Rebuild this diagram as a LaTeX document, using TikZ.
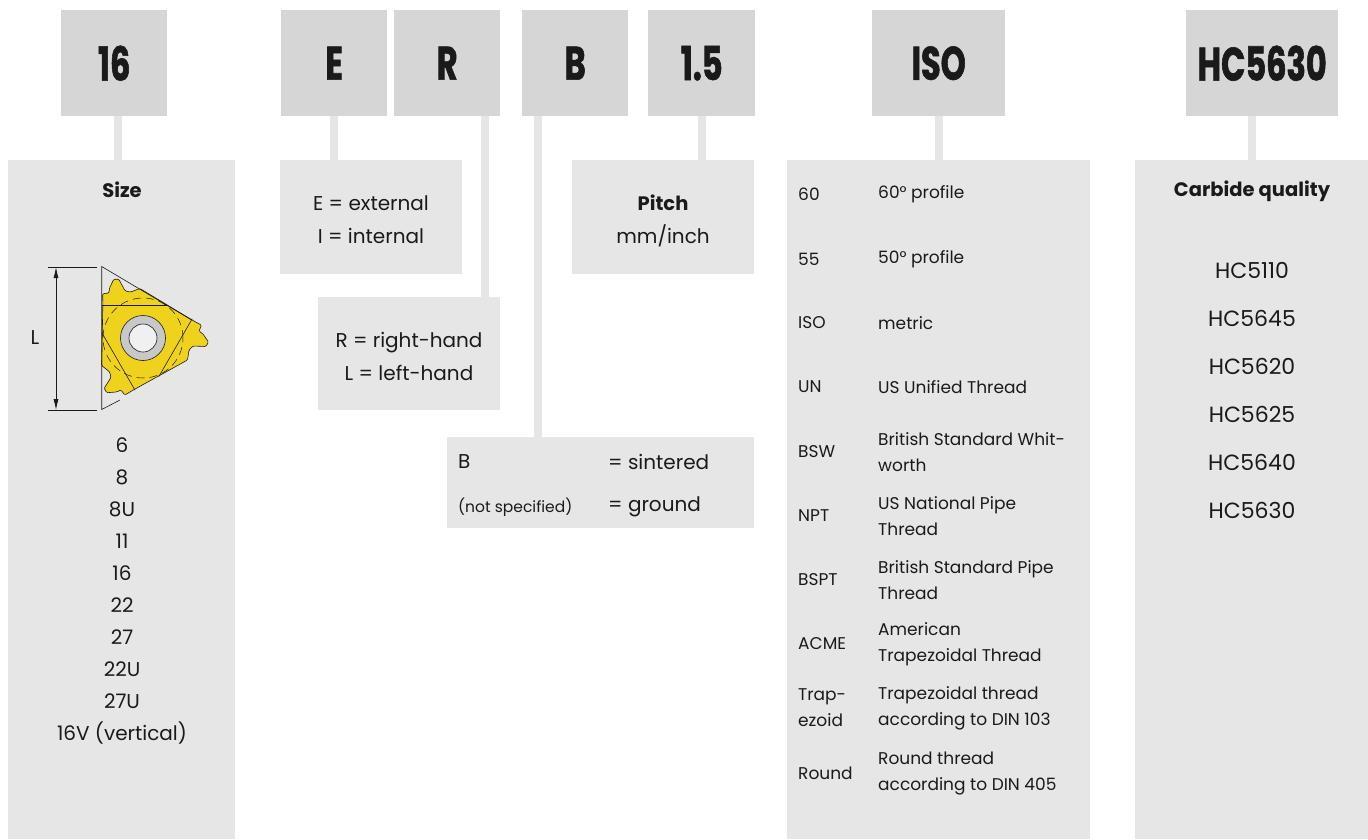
\documentclass[tikz,border=0pt]{standalone}
\usepackage{fontspec}
\setmainfont{Poppins}[Numbers=Monospaced]
\newfontfamily\codefont{Poppins}[FakeStretch=0.68, FakeBold=1.2]
\usetikzlibrary{arrows.meta}

\definecolor{codegray}{HTML}{D6D6D6}
\definecolor{descgray}{HTML}{E6E6E6}
\definecolor{inkblack}{HTML}{1A1A1A}
\definecolor{insertyellow}{HTML}{EFD21C}
\definecolor{holegray}{HTML}{C8C8C8}

\tikzset{
  codebox/.style={fill=codegray, minimum height=106, inner sep=0, anchor=north west,
    font=\codefont\bfseries\fontsize{47}{47}\selectfont},
  descbox/.style={fill=descgray, inner sep=0, anchor=north west},
  stem/.style={draw=descgray, line width=8},
  head/.style={font=\bfseries\fontsize{19.5}{22}\selectfont, inner sep=0},
  txt/.style={font=\fontsize{20}{33}\selectfont, inner sep=0, align=center},
  cell/.style={font=\fontsize{17}{26}\selectfont, inner sep=0, anchor=west, align=left},
  thin line/.style={draw=inkblack, line width=0.6},
}

% one cut corner of the insert with its thread tooth
\newcommand{\threadprofile}[1]{%
  -- ([rotate=#1]58.5,12.8) -- ([rotate=#1]56,7) -- ([rotate=#1]60,4)
  -- ([rotate=#1]65.5,-4) -- ([rotate=#1]63,-8.5) -- ([rotate=#1]50,-8)
  -- ([rotate=#1]46,-12) -- ([rotate=#1]44.5,-22)}

\begin{document}
\begin{tikzpicture}[x=1pt, y=-1pt, text=inkblack]
\useasboundingbox (0,0) rectangle (1368,839);

% description boxes
\node[descbox, minimum width=227, minimum height=679] (size) at (8,160) {};
\node[descbox, minimum width=182, minimum height=114] (ei) at (280,160) {};
\node[descbox, minimum width=182, minimum height=113] (rl) at (318,297) {};
\node[descbox, minimum width=182, minimum height=114] (pitch) at (572,160) {};
\node[descbox, minimum width=307, minimum height=91] (grind) at (447,437) {};
\node[descbox, minimum width=303, minimum height=679] (thread) at (787,160) {};
\node[descbox, minimum width=233, minimum height=679] (grade) at (1135,160) {};

% code boxes
\node[codebox, minimum width=106] (c16) at (61,10) {16};
\node[codebox, minimum width=106] (cE) at (281,10) {E};
\node[codebox, minimum width=106] (cR) at (394,10) {R};
\node[codebox, minimum width=106] (cB) at (522,10) {B};
\node[codebox, minimum width=107] (cpitch) at (648,10) {1.5};
\node[codebox, minimum width=133] (cISO) at (872,10) {ISO};
\node[codebox, minimum width=152] (cgrade) at (1186,10) {HC5630};

% stems
\draw[stem] ([xshift=4]c16.south) -- ([xshift=4]c16.south |- size.north);
\draw[stem] (cE.south) -- (cE.south |- ei.north);
\draw[stem] ([xshift=38]cR.south) -- ([xshift=38]cR.south |- rl.north);
\draw[stem] ([xshift=-37]cB.south) -- ([xshift=-37]cB.south |- grind.north);
\draw[stem] (cpitch.south) -- (cpitch.south |- pitch.north);
\draw[stem] (cISO.south) -- (cISO.south |- thread.north);
\draw[stem] ([xshift=-10]cgrade.south) -- ([xshift=-10]cgrade.south |- grade.north);

% size
\node[head] (sizehead) at (122,190) {Size};
\node[txt, font=\fontsize{20}{32}\selectfont] (sizelist) at (122,591)
  {6\\8\\8U\\11\\16\\22\\27\\22U\\27U\\16V (vertical)};

% insert with dimension L
\coordinate (ltop) at (56,267);
\coordinate (lbot) at (56,410);
\draw[thin line] (48,267) -- (97,267);
\draw[thin line] (48,410) -- (97,410);
\draw[thin line, line width=0.8, {Latex[length=11,width=5]}-{Latex[length=11,width=5]}] (ltop) -- (lbot);
\node[font=\fontsize{20}{22}\selectfont] (lenlabel) at (35,338) {L};

\begin{scope}[shift={(143,338)}, y=1pt]
  \path[fill=insertyellow, thin line, rounded corners=1.2]
    (50,17.5) \threadprofile{0}
    -- ([rotate=240]50,17.5) \threadprofile{240}
    -- ([rotate=120]50,17.5) \threadprofile{120} -- cycle;
  \draw[thin line, line width=0.5, dash pattern=on 8 off 5] (0,0) circle (40);
  \draw[thin line] (-41.3,33) -- (25.4,33);
  \draw[thin line, rotate=120] (-41.3,33) -- (25.4,33);
  \draw[thin line, rotate=240] (-41.3,33) -- (25.4,33);
  \draw[thin line, fill=holegray] (0,0) circle (22.5);
  \draw[thin line, fill=descgray!60!white] (0,0) circle (14);
  \draw[thin line] (48.7,18) -- (-41.3,71.5) -- (-41.3,-71.5) -- (-23,-62);
\end{scope}

% hand
\node[txt] (eitext) at (371,220) {E = external\\I = internal};
\node[txt] (rltext) at (409,356) {R = right-hand\\L = left-hand};

% pitch
\node[head] (pitchhead) at (663,203) {Pitch};
\node[txt] (pitchunit) at (663,236) {mm/inch};

% grinding
\node[txt, anchor=west] (bcode) at (458,462) {B};
\node[txt, anchor=west] (bsinter) at (608,462) {= sintered};
\node[cell, font=\fontsize{15.5}{18}\selectfont] (bnone) at (458,507) {(not specified)};
\node[txt, anchor=west] (bground) at (608,507) {= ground};

% thread profiles
\node[cell] (t60) at (798,194) {60};
\node[cell] (d60) at (878,194) {60° profile};
\node[cell] (t55) at (798,259) {55};
\node[cell] (d55) at (878,259) {50° profile};
\node[cell] (tiso) at (798,323) {ISO};
\node[cell] (diso) at (878,323) {metric};
\node[cell] (tun) at (798,387) {UN};
\node[cell] (dun) at (878,387) {US Unified Thread};
\node[cell] (tbsw) at (798,452) {BSW};
\node[cell] (dbsw) at (878,452) {British Standard Whit-\\worth};
\node[cell] (tnpt) at (798,516) {NPT};
\node[cell] (dnpt) at (878,516) {US National Pipe\\Thread};
\node[cell] (tbspt) at (798,580) {BSPT};
\node[cell] (dbspt) at (878,580) {British Standard Pipe\\Thread};
\node[cell] (tacme) at (798,644) {ACME};
\node[cell] (dacme) at (878,644) {American\\Trapezoidal Thread};
\node[cell] (ttrap) at (798,708) {Trap-\\ezoid};
\node[cell] (dtrap) at (878,708) {Trapezoidal thread\\according to DIN 103};
\node[cell] (tround) at (798,773) {Round};
\node[cell] (dround) at (878,773) {Round thread\\according to DIN 405};

% carbide grades
\node[head] (gradehead) at (1252,191) {Carbide quality};
\node[txt, font=\fontsize{22}{48}\selectfont] (gradelist) at (1252,390)
  {HC5110\\HC5645\\HC5620\\HC5625\\HC5640\\HC5630};

\end{tikzpicture}
\end{document}
